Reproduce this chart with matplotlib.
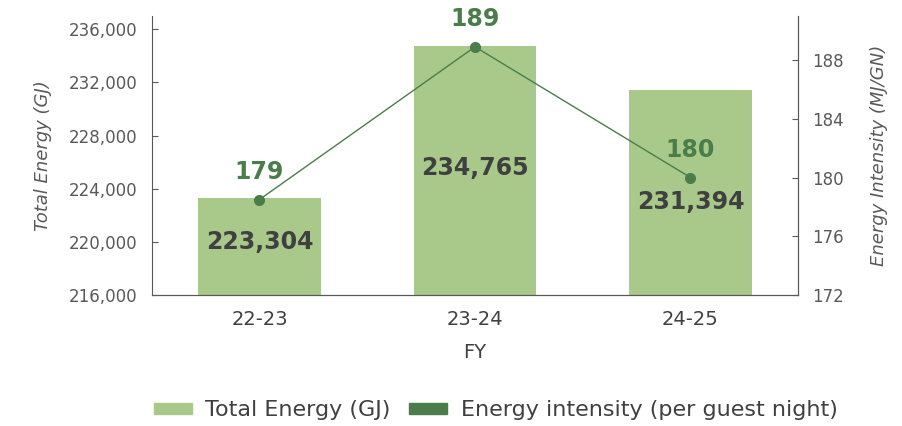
import matplotlib
matplotlib.use('Agg')
from matplotlib import pyplot as plt
from matplotlib.patches import Patch

# data
years = ['22-23', '23-24', '24-25']
total_energy = [223304, 234765, 231394]
intensity = [178.5, 188.9, 180.0]
intensity_labels = ['179', '189', '180']

bar_color = '#a9c98a'
line_color = '#4a7d4a'
text_dark = '#404040'
axis_grey = '#595959'

plt.rcParams['font.family'] = ['DejaVu Sans']

fig = plt.figure(figsize=(9.03, 4.26), dpi=100)
ax = fig.add_axes([0.168, 0.3075, 0.716, 0.655])
ax2 = ax.twinx()

x = range(len(years))

# bars on left axis
ax.bar(x, total_energy, width=0.57, color=bar_color, zorder=2)
ax.set_ylim(216000, 237000)
ax.set_xlim(-0.5, 2.5)
ax.set_yticks(range(216000, 236001, 4000))
ax.set_yticklabels([f'{v:,}' for v in range(216000, 236001, 4000)])

# value labels roughly mid-bar, nudged a little (pixels) like the original
label_nudge = [4, 2, -9]
for xi, v, dy in zip(x, total_energy, label_nudge):
    ax.annotate(f'{v:,}', (xi, (216000 + v) / 2), xytext=(0, dy * 0.72), textcoords='offset points',
                ha='center', va='center', fontsize=17, fontweight='bold', color=text_dark, zorder=5)

# line on right axis
ax2.plot(x, intensity, color=line_color, linewidth=1, marker='o', markersize=7, zorder=3)
ax2.set_ylim(172, 191)
ax2.set_yticks(range(172, 189, 4))
for xi, v, lab in zip(x, intensity, intensity_labels):
    ax2.annotate(lab, (xi, v), xytext=(0, 20), textcoords='offset points',
                 ha='center', va='center', fontsize=17, fontweight='bold', color=line_color)

# axes styling
for a in (ax, ax2):
    a.spines['top'].set_visible(False)
    for s in ('left', 'right', 'bottom'):
        a.spines[s].set_color(axis_grey)
    a.tick_params(axis='y', direction='in', length=4, colors=axis_grey, labelcolor=axis_grey, labelsize=12)
ax.tick_params(axis='x', length=0, labelsize=14, labelcolor=text_dark, pad=11)
ax2.spines['left'].set_visible(False)

ax.set_xticks(list(x))
ax.set_xticklabels(years)
ax.set_xlabel('FY', fontsize=14, color=text_dark, labelpad=10)
ax.set_ylabel('Total Energy (GJ)', fontsize=13, style='italic', color=axis_grey, labelpad=12)
ax2.set_ylabel('Energy Intensity (MJ/GN)', fontsize=13, style='italic', color=axis_grey, labelpad=19)
ax.tick_params(axis='y', pad=10)
ax2.tick_params(axis='y', pad=10)

handles = [Patch(color=bar_color, label='Total Energy (GJ)'),
           Patch(color=line_color, label='Energy intensity (per guest night)')]
fig.legend(handles=handles, loc='center', bbox_to_anchor=(0.549, 0.037), ncol=2, frameon=False,
           fontsize=16, handlelength=1.7, handleheight=0.36, columnspacing=0.85, handletextpad=0.6,
           labelcolor=text_dark)

fig.savefig('out.png', dpi=100)
